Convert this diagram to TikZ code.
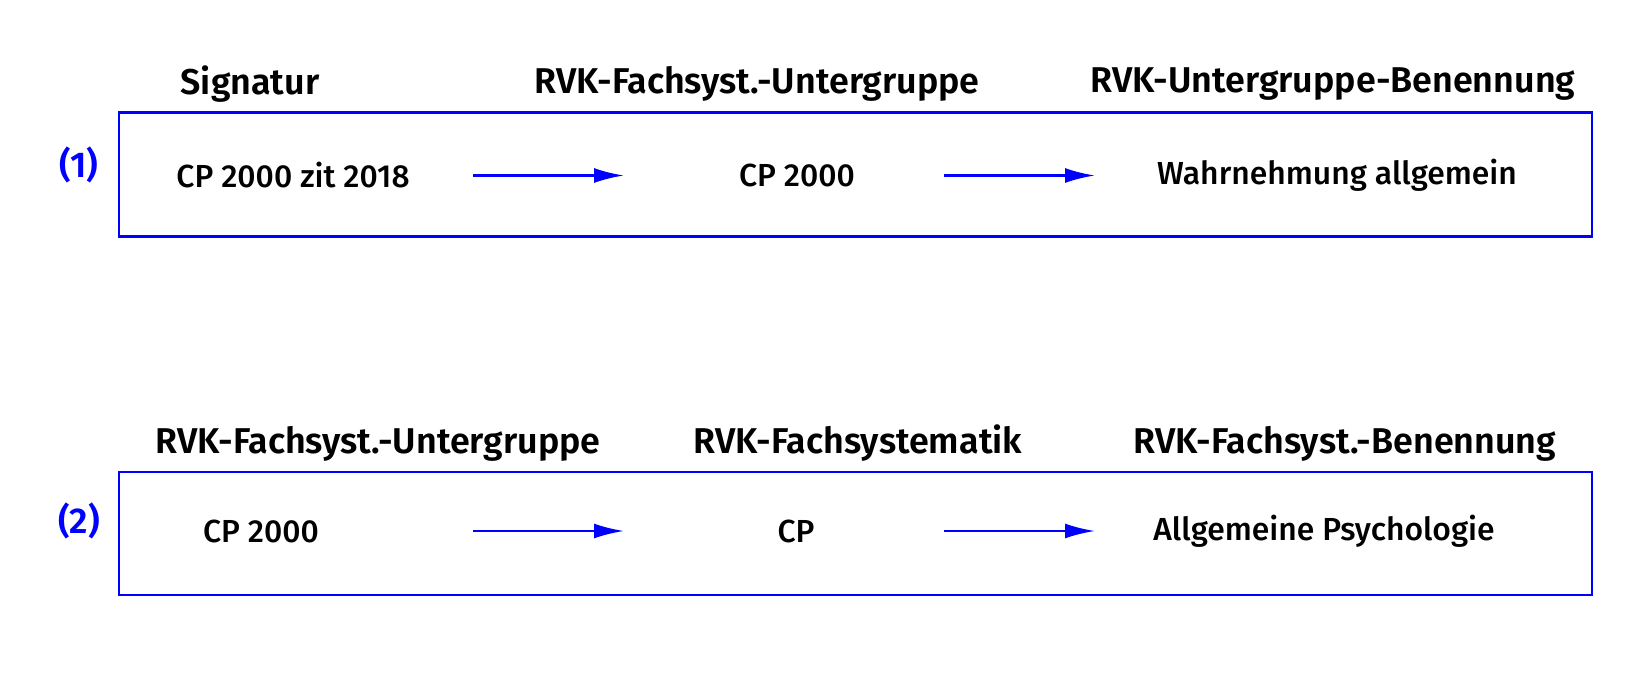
\documentclass[tikz,border=0pt]{standalone}
\usepackage{fontspec}
\setmainfont{Fira Sans}[UprightFont=* Medium, BoldFont=* SemiBold]
\usetikzlibrary{arrows.meta}
\tikzset{
  rowbox/.style={draw=blue,line width=2.8bp},
  flow/.style={blue,line width=2.5bp,-{Latex[length=30bp,width=15bp]}},
  colhead/.style={font=\fontsize{36}{42}\selectfont\bfseries},
  cell/.style={font=\fontsize{32}{38}\selectfont},
  rowtag/.style={text=blue,font=\fontsize{36}{42}\selectfont\bfseries}
}
\begin{document}
\begin{tikzpicture}[x=1bp,y=1bp]
  \useasboundingbox (0,0) rectangle (1648,694);
  % row 1
  \draw[rowbox] (119,457.5) rectangle (1592,581.5);
  \node[rowtag] (tagA) at (79,529) {(1)};
  \node[colhead] (headA1) at (250,610) {Signatur};
  \node[colhead] (headA2) at (757,610) {RVK-Fachsyst.-Untergruppe};
  \node[colhead] (headA3) at (1333,610) {RVK-Untergruppe-Benennung};
  \node[cell] (sig) at (293,518.5) {CP 2000 zit 2018};
  \node[cell] (grpA) at (797,518.5) {CP 2000};
  \node[cell] (nameA) at (1337,518.5) {Wahrnehmung allgemein};
  \coordinate (a1) at (473,518.5);
  \coordinate (a2) at (624,518.5);
  \coordinate (a3) at (944,518.5);
  \coordinate (a4) at (1095,518.5);
  \draw[flow] (a1) -- (a2);
  \draw[flow] (a3) -- (a4);
  % row 2
  \draw[rowbox] (119,99) rectangle (1592,222);
  \node[rowtag] (tagB) at (79,173) {(2)};
  \node[colhead] (headB1) at (378,250.5) {RVK-Fachsyst.-Untergruppe};
  \node[colhead] (headB2) at (858,250.5) {RVK-Fachsystematik};
  \node[colhead] (headB3) at (1345,250.5) {RVK-Fachsyst.-Benennung};
  \node[cell] (grpB) at (261,163) {CP 2000};
  \node[cell] (sys) at (796,163) {CP};
  \node[cell] (nameB) at (1324,163) {Allgemeine Psychologie};
  \coordinate (b1) at (473,163);
  \coordinate (b2) at (624,163);
  \coordinate (b3) at (944,163);
  \coordinate (b4) at (1095,163);
  \draw[flow] (b1) -- (b2);
  \draw[flow] (b3) -- (b4);
\end{tikzpicture}
\end{document}
